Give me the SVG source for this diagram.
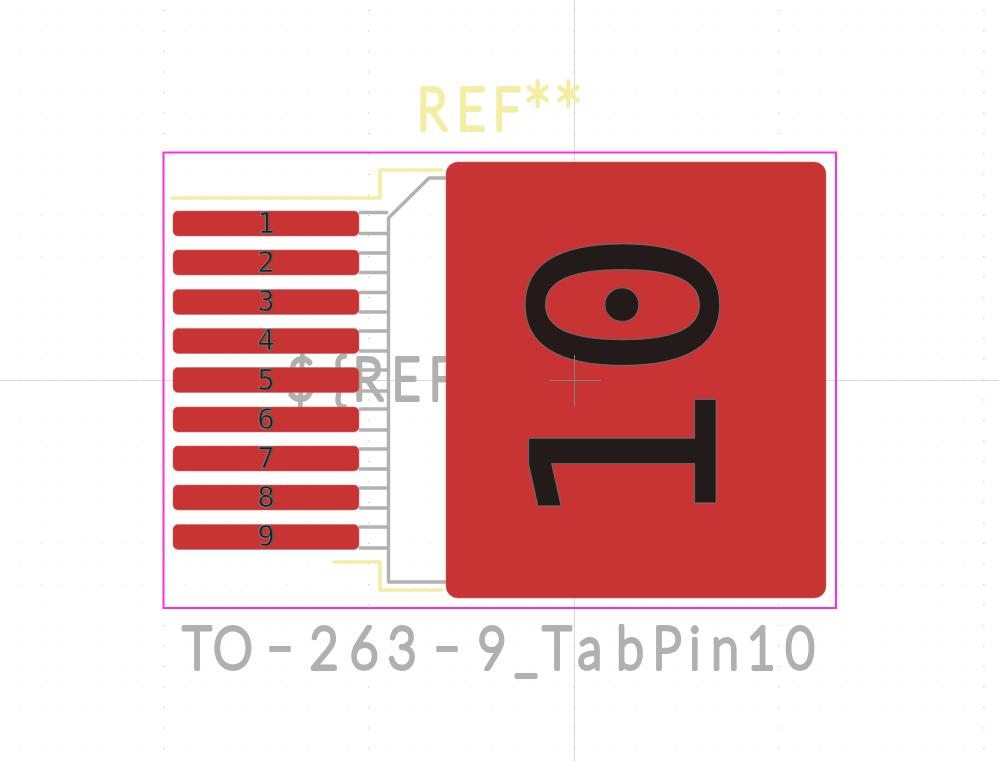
<svg xmlns="http://www.w3.org/2000/svg" width="999" height="761" viewBox="0 0 999 761">
<style>
.pad{fill:#c83434;stroke:#d4605c;stroke-width:.5}
.num{font-family:"DejaVu Sans Mono",monospace;fill:#231a1a;stroke:#3fb5b5;stroke-width:.5;text-anchor:middle}
.small{font-size:29px}
.fab{fill:none;stroke:#b2b2b2;stroke-width:3.400;stroke-linejoin:round}
.silk{fill:none;stroke:#f3eea3;stroke-width:3.600;stroke-linecap:round;stroke-linejoin:round}
.label{font-family:Lato,"Open Sans",sans-serif;font-weight:300;font-size:59px;text-anchor:middle;stroke-linejoin:round;stroke-width:3.800}
.gray{fill:#b0b0b0;stroke:#b0b0b0}
.yellow{fill:#f3eea3;stroke:#f3eea3}
.dash{font-size:100px;stroke-width:2}
.star{font-size:88px;stroke-width:2.500}
</style>
<defs>
<pattern id="grid" x="-0.5" y="10" width="20.5" height="20.5" patternUnits="userSpaceOnUse">
<rect x="0" y="0" width="1" height="1" fill="#e6e6e6"/>
</pattern>
<pattern id="major" x="163" y="10" width="205" height="20.5" patternUnits="userSpaceOnUse">
<rect x="0" y="0" width="1.500" height="1" fill="#cfcfcf"/>
</pattern>
</defs>
<rect width="999" height="761" fill="#ffffff"/>
<rect width="999" height="761" fill="url(#grid)"/>
<rect width="999" height="761" fill="url(#major)"/>
<g id="axes" stroke="#dadada" stroke-width="1">
<line x1="574.500" y1="0" x2="574.500" y2="761"/>
<line x1="0" y1="380.500" x2="999" y2="380.500"/>
</g>
<g transform="scale(.85 1)">
<text id="value-label" class="label gray" y="669.500"><tspan x="231.800 274.100">TO</tspan><tspan class="dash" x="329.400" y="679">-</tspan><tspan x="381.200 428.200 472.900" y="669.500">263</tspan><tspan class="dash" x="525.900" y="679">-</tspan><tspan x="578.800 618.800 655.300 694.100 741.200 784.700 817.600 852.900 895.300 941.200" y="669.500">9_TabPin10</tspan></text>
<text id="ref-label" class="label yellow" y="130.500"><tspan x="508.200 554.100 596.500">REF</tspan><tspan class="star" x="632.400 668.800" y="147">**</tspan></text>
<text id="fab-ref" class="label gray" y="400" x="354.100 400 432.900 477.600 521.200">${REF</text>
</g>
<g id="connectors">
<path class="fab" d="M359 212.500H388M359 233.500H388M359 253H388M359 272.500H388M359 292.500H388M359 312H388M359 331H388M359 351H388M359 370H388M359 391H388M359 409H388M359 430H388M359 449H388M359 469H388M359 488H388M359 508H388M359 527H388M359 548H388"/>
<path class="fab" d="M446 178H429L388.500 218V582H446"/>
<path class="silk" d="M172 198H380V170H442"/>
<path class="silk" d="M334 562H380V590H442"/>
</g>
<rect id="courtyard" x="163.500" y="152.500" width="672.500" height="455.500" fill="none" stroke="#fb2ee4" stroke-width="2"/>
<g id="pad-1"><rect class="pad" x="173" y="211" width="186" height="25" rx="5"/><text class="num small" x="266" y="233">1</text></g>
<g id="pad-2"><rect class="pad" x="173" y="250" width="186" height="25" rx="5"/><text class="num small" x="266" y="272">2</text></g>
<g id="pad-3"><rect class="pad" x="173" y="289.500" width="186" height="25" rx="5"/><text class="num small" x="266" y="311">3</text></g>
<g id="pad-4"><rect class="pad" x="173" y="328.500" width="186" height="25" rx="5"/><text class="num small" x="266" y="350">4</text></g>
<g id="pad-5"><rect class="pad" x="173" y="367.500" width="186" height="25" rx="5"/><text class="num small" x="266" y="390">5</text></g>
<g id="pad-6"><rect class="pad" x="173" y="407" width="186" height="25" rx="5"/><text class="num small" x="266" y="429">6</text></g>
<g id="pad-7"><rect class="pad" x="173" y="446" width="186" height="25" rx="5"/><text class="num small" x="266" y="468">7</text></g>
<g id="pad-8"><rect class="pad" x="173" y="485" width="186" height="25" rx="5"/><text class="num small" x="266" y="507">8</text></g>
<g id="pad-9"><rect class="pad" x="173" y="524.500" width="186" height="25" rx="5"/><text class="num small" x="266" y="546">9</text></g>
<g id="pad-10"><rect class="pad" x="446" y="162" width="380" height="436" rx="12"/>
<text class="num" transform="translate(716 382) rotate(-90)" font-size="257">10</text></g>
<g id="anchor" stroke="#8a7d7d" stroke-width="1"><line x1="549" y1="380.500" x2="601" y2="380.500"/><line x1="574.500" y1="355" x2="574.500" y2="406"/></g>
</svg>
